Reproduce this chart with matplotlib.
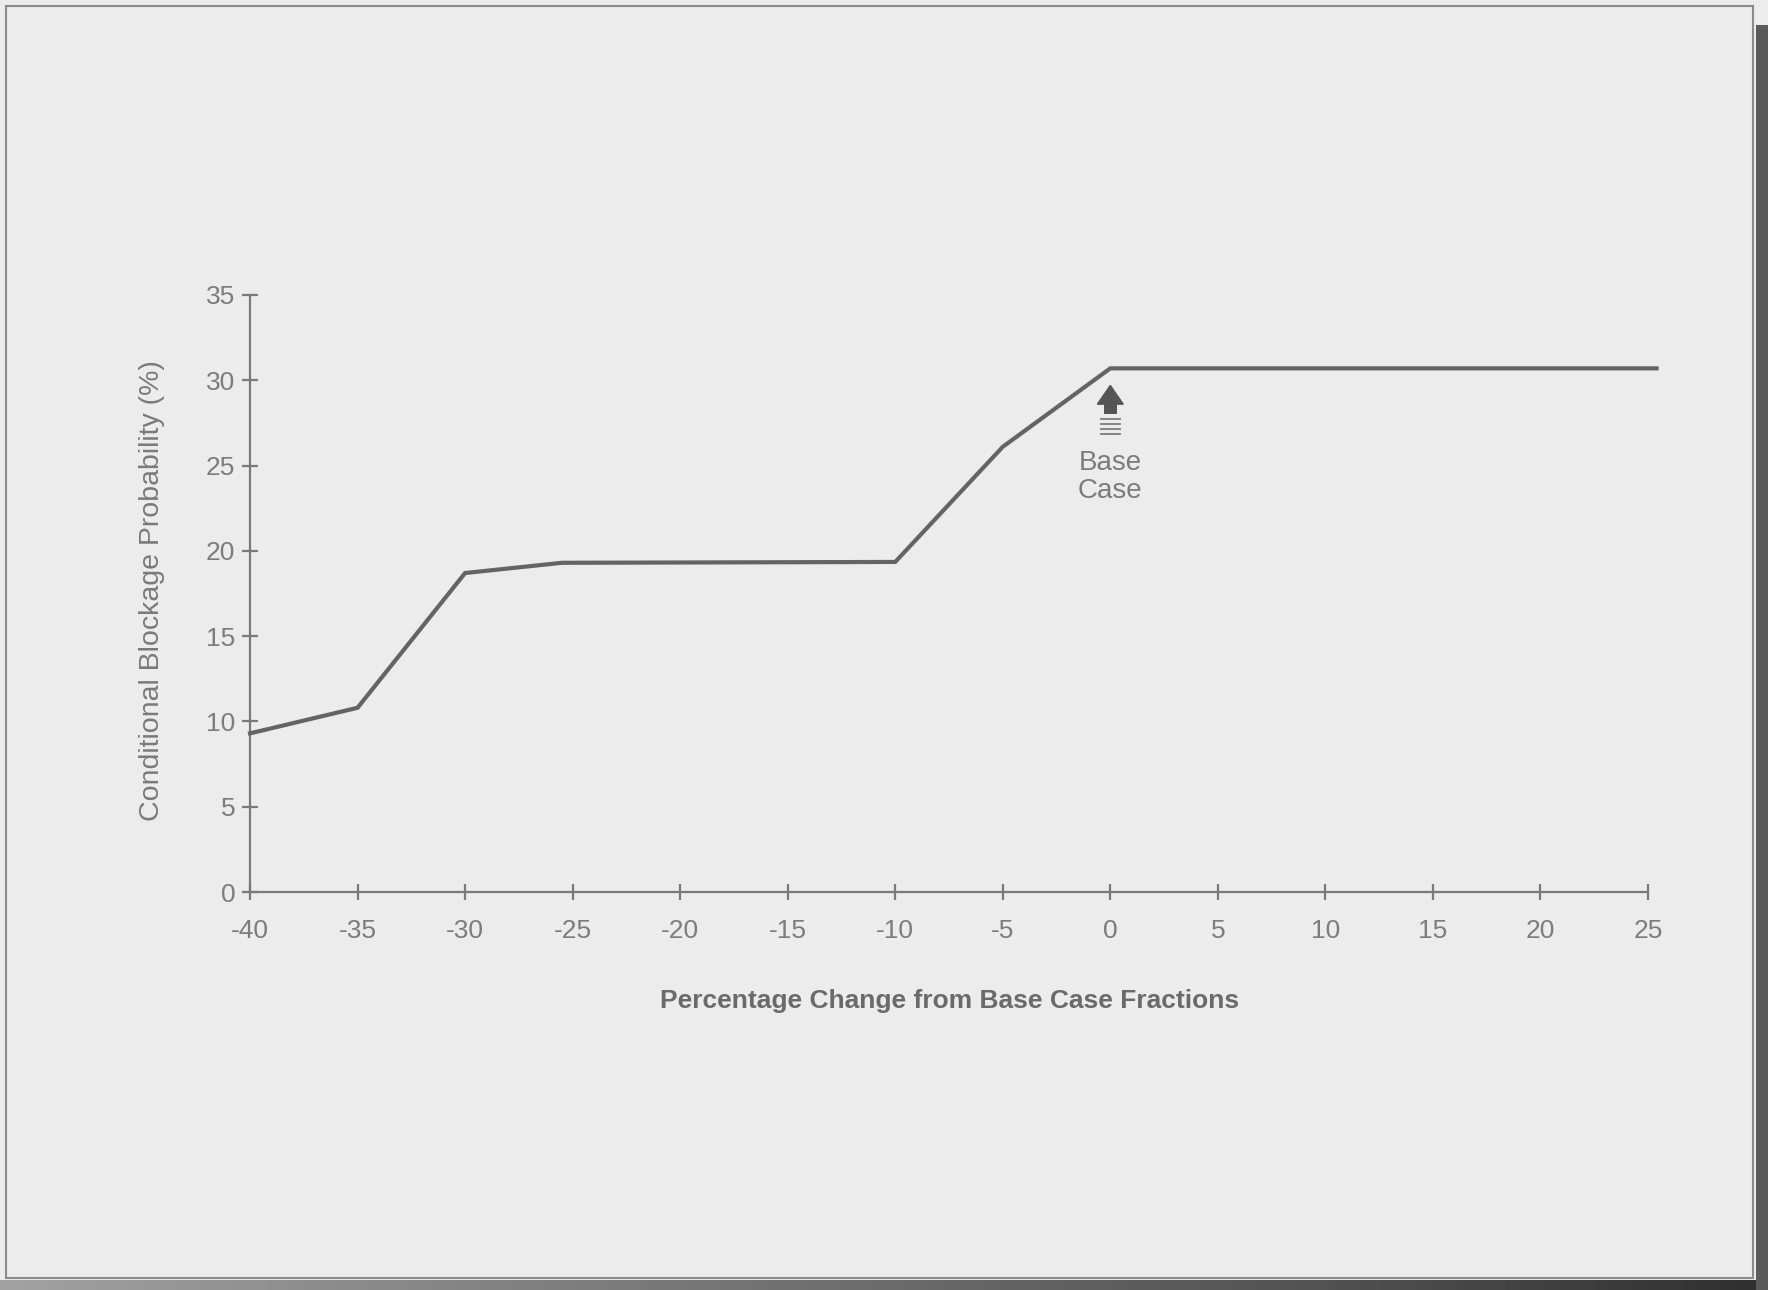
import matplotlib
matplotlib.use("Agg")
import matplotlib.pyplot as plt
from matplotlib.patches import Rectangle, Polygon
import numpy as np

# Sensitivity of blockage probability to the debris fractions
pct_change = [-40, -35, -30, -25.5, -10, -5, 0, 25.4]
blockage_prob = [9.3, 10.8, 18.7, 19.3, 19.35, 26.1, 30.7, 30.7]

x_ticks = [-40, -35, -30, -25, -20, -15, -10, -5, 0, 5, 10, 15, 20, 25]
y_ticks = [0, 5, 10, 15, 20, 25, 30, 35]

base_case_x = 0
x_label = "Percentage Change from Base Case Fractions"
y_label = "Conditional Blockage Probability (%)"
base_label = "Base\nCase"

bg = "#ececec"
axis_col = "#7a7a7a"
text_col = "#7c7c7c"
line_col = "#646464"

plt.rcParams["font.family"] = ["Liberation Sans", "DejaVu Sans"]

fig = plt.figure(figsize=(17.68, 12.90), dpi=100, facecolor=bg)

# page frame and scanner edges
fig.patches.append(Rectangle((6 / 1768, 12 / 1290), 1747 / 1768, 1272 / 1290,
                             transform=fig.transFigure, fill=False,
                             edgecolor="#8a8a8a", linewidth=1.5, zorder=0))
fig.patches.append(Rectangle((1756 / 1768, 0), 12 / 1768, 1265 / 1290,
                             transform=fig.transFigure, facecolor="#5a5a5a",
                             edgecolor="none", zorder=0))
grad = np.linspace(0, 1, 256)[None, :]
band_ax = fig.add_axes([0, 0, 1, 10 / 1290])
band_ax.imshow(grad, aspect="auto", cmap="Greys", vmin=-1.2, vmax=1.4)
band_ax.set_axis_off()

ax = fig.add_axes([250 / 1768, 1 - 892 / 1290, 1398 / 1768, 597 / 1290])
ax.set_facecolor("none")
ax.set_xlim(-40, 25)
ax.set_ylim(0, 35)

ax.plot(pct_change, blockage_prob, color=line_col, linewidth=3.0,
        solid_joinstyle="miter", clip_on=False, zorder=3)

for s in ["top", "right"]:
    ax.spines[s].set_visible(False)
for s in ["left", "bottom"]:
    ax.spines[s].set_color(axis_col)
    ax.spines[s].set_linewidth(1.6)

ax.set_xticks(x_ticks)
ax.set_yticks(y_ticks)
ax.set_xticklabels([str(t) for t in x_ticks])
ax.set_yticklabels([str(t) for t in y_ticks])
ax.tick_params(axis="both", direction="inout", length=11, width=1.6,
               colors=axis_col, labelcolor=text_col, labelsize=19)
ax.tick_params(axis="x", pad=14)
ax.tick_params(axis="y", pad=5)

fig.text(950 / 1768, 1 - 1001 / 1290, x_label, ha="center", va="center",
         fontsize=19, fontweight="bold", color="#6a6a6a")
fig.text(152 / 1768, 1 - 591 / 1290, y_label, ha="center", va="center",
         rotation=90, fontsize=20.5, color="#7a7a7a")

# base case marker: arrow head with motion stripes
head = Polygon([[base_case_x - 0.6, 28.6], [base_case_x + 0.6, 28.6],
                [base_case_x, 29.7]], closed=True, facecolor="#555555",
               edgecolor="#555555", zorder=4)
ax.add_patch(head)
ax.add_patch(Rectangle((base_case_x - 0.3, 28.0), 0.6, 0.7,
                       facecolor="#555555", edgecolor="none", zorder=4))
for yy in [27.75, 27.45, 27.15, 26.85]:
    ax.plot([base_case_x - 0.45, base_case_x + 0.45], [yy, yy],
            color="#7a7a7a", linewidth=1.3, zorder=4)
ax.text(base_case_x, 24.35, base_label, ha="center", va="center",
        fontsize=20, color=text_col, linespacing=1.1)

fig.savefig("out.png", dpi=100, facecolor=bg)
